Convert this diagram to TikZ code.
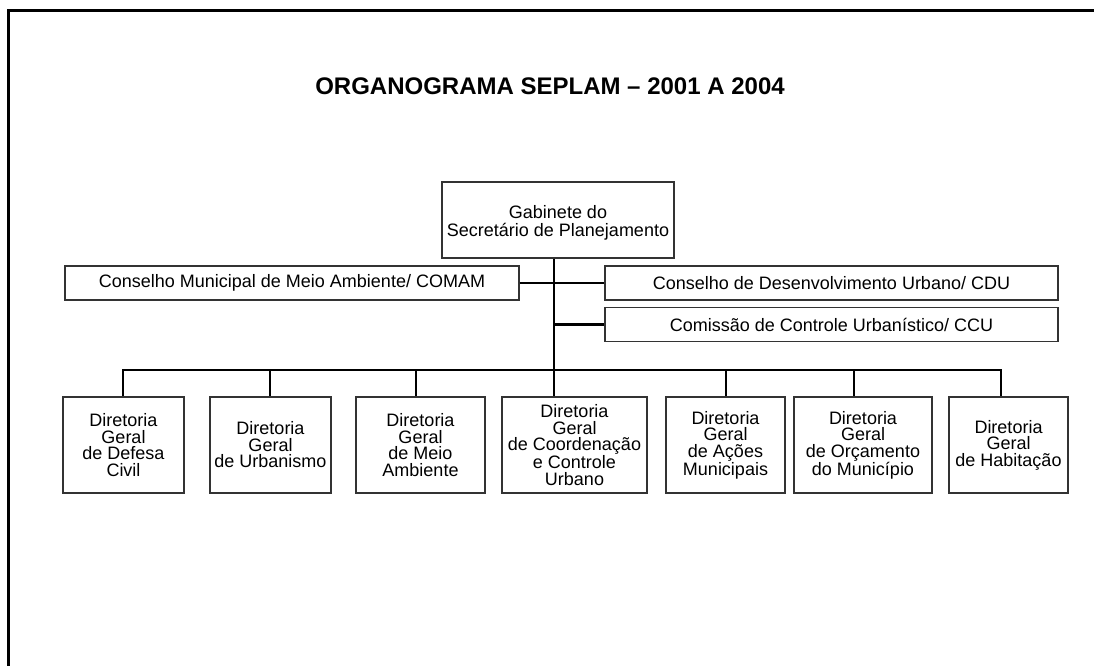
\documentclass[tikz,border=0pt]{standalone}
\usepackage{fontspec}
\setmainfont{Liberation Sans}
\begin{document}
\begin{tikzpicture}[x=1pt,y=-1pt,
  box/.style={draw=black!80, line width=1.3pt, align=center, inner sep=0pt,
    font=\fontsize{18}{16.5}\selectfont},
  wide/.style={box, minimum height=34pt},
  dir/.style={box, minimum height=96pt},
  wire/.style={line width=2.6pt, black},
  frame/.style={line width=2.6pt, black},
]
\useasboundingbox (0,0) rectangle (1094,666);
\draw[frame] (8.7,666) -- (8.7,10.3) -- (1094,10.3);

\node[font=\fontsize{24}{28}\selectfont\bfseries] (title) at (550,86) {ORGANOGRAMA SEPLAM – 2001 A 2004};

\node[box, minimum width=232pt, minimum height=76pt, font=\fontsize{18}{18}\selectfont] (gab) at (558,220) {\rule{0pt}{19pt}Gabinete do\\Secretário de Planejamento};

\node[wide, minimum width=454pt] (comam) at (292,283) {Conselho Municipal de Meio Ambiente/ COMAM};
\node[wide, minimum width=453pt] (cdu) at (831.5,283) {Conselho de Desenvolvimento Urbano/ CDU};
\node[wide, minimum width=453pt] (ccu) at (831.5,324.5) {Comissão de Controle Urbanístico/ CCU};

\node[dir, minimum width=121pt] (b1) at (123.5,445) {Diretoria\\Geral\\de Defesa\\Civil};
\node[dir, minimum width=121pt] (b2) at (270.5,445) {Diretoria\\Geral\\de Urbanismo};
\node[dir, minimum width=129pt] (b3) at (420.5,445) {Diretoria\\Geral\\de Meio\\Ambiente};
\node[dir, minimum width=145pt] (b4) at (574.5,445) {Diretoria\\Geral\\de Coordenação\\e Controle\\Urbano};
\node[dir, minimum width=119pt] (b5) at (725.5,445) {Diretoria\\Geral\\de Ações\\Municipais};
\node[dir, minimum width=138pt] (b6) at (863,445) {Diretoria\\Geral\\de Orçamento\\do Município};
\node[dir, minimum width=119pt] (b7) at (1008.5,445) {Diretoria\\Geral\\de Habitação};

\coordinate (d1) at (123,370);
\coordinate (d2) at (270,370);
\coordinate (d3) at (416,370);
\coordinate (d4) at (554,370);
\coordinate (d5) at (726,370);
\coordinate (d6) at (854,370);
\coordinate (d7) at (1001,370);

\draw[wire] (gab.south -| d4) -- (d4 |- b4.north);
\draw[wire] (comam.east) -- (cdu.west);
\draw[wire] (ccu.west -| d4) -- (ccu.west);
\draw[wire] (d1 |- b1.north) -- (d1) -- (d7) -- (d7 |- b7.north);
\draw[wire] (d2) -- (d2 |- b2.north);
\draw[wire] (d3) -- (d3 |- b3.north);
\draw[wire] (d5) -- (d5 |- b5.north);
\draw[wire] (d6) -- (d6 |- b6.north);
\end{tikzpicture}
\end{document}
